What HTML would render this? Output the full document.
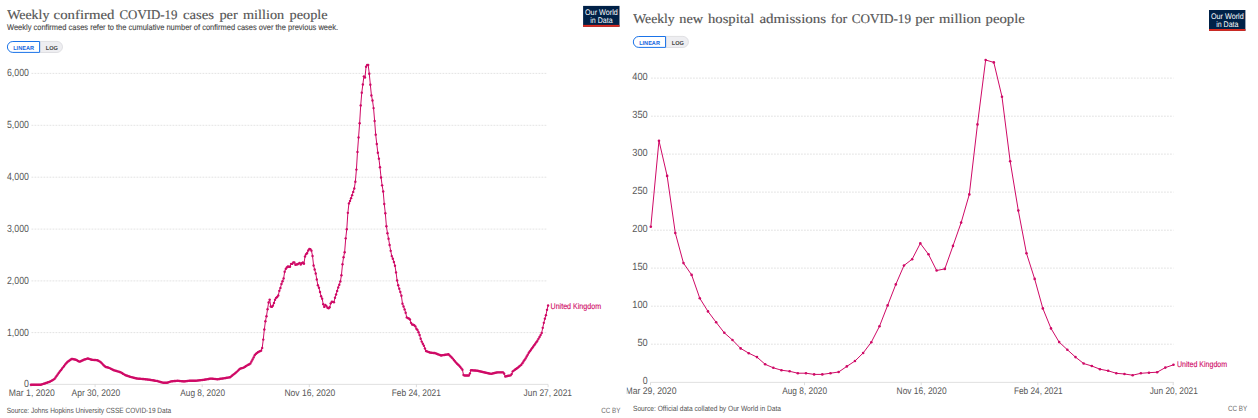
<!DOCTYPE html><html><head><meta charset="utf-8"><title>Charts</title><style>html,body{margin:0;padding:0;background:#fff}svg{display:block}</style></head><body>
<svg width="1258" height="418" viewBox="0 0 1258 418" text-rendering="geometricPrecision">
<rect width="1258" height="418" fill="#fff"/>
<defs><clipPath id="rc"><rect x="626.8" y="0" width="632" height="418"/></clipPath></defs>
<text x="7.2" y="18.8" font-family="Liberation Serif, serif" font-size="13.2" fill="#555" textLength="42.2" lengthAdjust="spacingAndGlyphs" stroke="#555" stroke-width="0.15">Weekly</text><text x="53.6" y="18.8" font-family="Liberation Serif, serif" font-size="13.2" fill="#555" textLength="60.8" lengthAdjust="spacingAndGlyphs" stroke="#555" stroke-width="0.15">confirmed</text><text x="119.5" y="18.8" font-family="Liberation Serif, serif" font-size="13.2" fill="#555" textLength="58.0" lengthAdjust="spacingAndGlyphs" stroke="#555" stroke-width="0.15">COVID-19</text><text x="182.9" y="18.8" font-family="Liberation Serif, serif" font-size="13.2" fill="#555" textLength="31.2" lengthAdjust="spacingAndGlyphs" stroke="#555" stroke-width="0.15">cases</text><text x="219.4" y="18.8" font-family="Liberation Serif, serif" font-size="13.2" fill="#555" textLength="18.3" lengthAdjust="spacingAndGlyphs" stroke="#555" stroke-width="0.15">per</text><text x="243" y="18.8" font-family="Liberation Serif, serif" font-size="13.2" fill="#555" textLength="41.2" lengthAdjust="spacingAndGlyphs" stroke="#555" stroke-width="0.15">million</text><text x="289.5" y="18.8" font-family="Liberation Serif, serif" font-size="13.2" fill="#555" textLength="38.1" lengthAdjust="spacingAndGlyphs" stroke="#555" stroke-width="0.15">people</text>
<text x="7" y="30" font-family="Liberation Sans, sans-serif" font-size="8.3" fill="#484848" textLength="331" lengthAdjust="spacingAndGlyphs" stroke="#484848" stroke-width="0.12">Weekly confirmed cases refer to the cumulative number of confirmed cases over the previous week.</text>
<path d="M40.1,41.4 h16.85 a5.45,5.45 0 0 1 0,11.1 h-16.85 z" fill="#eeeef1" stroke="#d5d5da" stroke-width="0.7"/><path d="M39.6,41.5 h-26.750000000000004 a5.45,5.45 0 0 0 0,10.9 h26.750000000000004 z" fill="#fff" stroke="#1a73e8" stroke-width="1"/><text x="13.2" y="49.9" font-family="Liberation Sans, sans-serif" font-size="5.8" fill="#1a6ae0" textLength="20.8" lengthAdjust="spacingAndGlyphs" font-weight="bold">LINEAR</text><text x="45.8" y="49.9" font-family="Liberation Sans, sans-serif" font-size="5.8" fill="#444" textLength="12.1" lengthAdjust="spacingAndGlyphs" font-weight="bold">LOG</text>
<rect x="583.1" y="5.9" width="36.4" height="20.9" fill="#002147"/><rect x="583.1" y="24.9" width="36.4" height="1.9" fill="#dc2a1e"/><text x="585.0" y="14.5" font-family="Liberation Sans, sans-serif" font-size="8.2" fill="#fff" textLength="32.8" lengthAdjust="spacingAndGlyphs">Our World</text><text x="590.3000000000001" y="22.6" font-family="Liberation Sans, sans-serif" font-size="8.2" fill="#fff" textLength="22.3" lengthAdjust="spacingAndGlyphs">in Data</text>
<line x1="31.5" x2="547" y1="73.4" y2="73.4" stroke="#dadada" stroke-width="0.75" stroke-dasharray="1.8,1.2"/>
<text x="7" y="76.30000000000001" font-family="Liberation Sans, sans-serif" font-size="10.4" fill="#575757" textLength="21.9" lengthAdjust="spacingAndGlyphs">6,000</text>
<line x1="31.5" x2="547" y1="125.3" y2="125.3" stroke="#dadada" stroke-width="0.75" stroke-dasharray="1.8,1.2"/>
<text x="7" y="128.2" font-family="Liberation Sans, sans-serif" font-size="10.4" fill="#575757" textLength="21.9" lengthAdjust="spacingAndGlyphs">5,000</text>
<line x1="31.5" x2="547" y1="177.2" y2="177.2" stroke="#dadada" stroke-width="0.75" stroke-dasharray="1.8,1.2"/>
<text x="7" y="180.1" font-family="Liberation Sans, sans-serif" font-size="10.4" fill="#575757" textLength="21.9" lengthAdjust="spacingAndGlyphs">4,000</text>
<line x1="31.5" x2="547" y1="229.1" y2="229.1" stroke="#dadada" stroke-width="0.75" stroke-dasharray="1.8,1.2"/>
<text x="7" y="232.0" font-family="Liberation Sans, sans-serif" font-size="10.4" fill="#575757" textLength="21.9" lengthAdjust="spacingAndGlyphs">3,000</text>
<line x1="31.5" x2="547" y1="280.9" y2="280.9" stroke="#dadada" stroke-width="0.75" stroke-dasharray="1.8,1.2"/>
<text x="7" y="283.79999999999995" font-family="Liberation Sans, sans-serif" font-size="10.4" fill="#575757" textLength="21.9" lengthAdjust="spacingAndGlyphs">2,000</text>
<line x1="31.5" x2="547" y1="332.6" y2="332.6" stroke="#dadada" stroke-width="0.75" stroke-dasharray="1.8,1.2"/>
<text x="7" y="335.5" font-family="Liberation Sans, sans-serif" font-size="10.4" fill="#575757" textLength="21.9" lengthAdjust="spacingAndGlyphs">1,000</text>
<text x="24.0" y="386.7" font-family="Liberation Sans, sans-serif" font-size="10.4" fill="#575757" textLength="4.9" lengthAdjust="spacingAndGlyphs">0</text>
<line x1="30.9" x2="548" y1="384.4" y2="384.4" stroke="#dcdcdc" stroke-width="0.9"/>
<line x1="30.9" x2="30.9" y1="384.4" y2="387.2" stroke="#d4d4d4" stroke-width="0.8"/>
<text x="8.8" y="395.8" font-family="Liberation Sans, sans-serif" font-size="9.6" fill="#575757" textLength="46.1" lengthAdjust="spacingAndGlyphs">Mar 1, 2020</text>
<line x1="95.1" x2="95.1" y1="384.4" y2="387.2" stroke="#d4d4d4" stroke-width="0.8"/>
<text x="71.5" y="395.8" font-family="Liberation Sans, sans-serif" font-size="9.6" fill="#575757" textLength="48.7" lengthAdjust="spacingAndGlyphs">Apr 30, 2020</text>
<line x1="202.2" x2="202.2" y1="384.4" y2="387.2" stroke="#d4d4d4" stroke-width="0.8"/>
<text x="180.3" y="395.8" font-family="Liberation Sans, sans-serif" font-size="9.6" fill="#575757" textLength="44.7" lengthAdjust="spacingAndGlyphs">Aug 8, 2020</text>
<line x1="309.3" x2="309.3" y1="384.4" y2="387.2" stroke="#d4d4d4" stroke-width="0.8"/>
<text x="284.4" y="395.8" font-family="Liberation Sans, sans-serif" font-size="9.6" fill="#575757" textLength="50.9" lengthAdjust="spacingAndGlyphs">Nov 16, 2020</text>
<line x1="416.4" x2="416.4" y1="384.4" y2="387.2" stroke="#d4d4d4" stroke-width="0.8"/>
<text x="391.7" y="395.8" font-family="Liberation Sans, sans-serif" font-size="9.6" fill="#575757" textLength="49.2" lengthAdjust="spacingAndGlyphs">Feb 24, 2021</text>
<line x1="548.1" x2="548.1" y1="384.4" y2="387.2" stroke="#d4d4d4" stroke-width="0.8"/>
<text x="523.6" y="395.8" font-family="Liberation Sans, sans-serif" font-size="9.6" fill="#575757" textLength="48.4" lengthAdjust="spacingAndGlyphs">Jun 27, 2021</text>
<g fill="none" stroke="#cf0a66" stroke-width="1.0" stroke-linejoin="round"><path d="M30.90,384.70 L31.97,384.70 L33.04,384.70 L34.11,384.70 L35.18,384.70 L36.25,384.70 L37.32,384.70 L38.40,384.70 L39.47,384.70 L40.54,384.70 L41.61,384.45 L42.68,384.11 L43.75,383.78 L44.82,383.44 L45.89,383.07 L46.96,382.70 L48.03,382.32 L49.10,381.95 L50.17,381.57 L51.25,380.92 L52.32,380.28 L53.39,379.64 L54.46,378.90 L55.53,377.43 L56.60,375.96 L57.67,374.49 L58.74,373.02 L59.81,371.56 L60.88,370.14 L61.95,368.75 L63.02,367.35 L64.09,365.96 L65.17,364.57 L66.24,363.18 L67.31,362.03 L68.38,361.28 L69.45,360.53 L70.52,359.78 L71.59,359.03 L72.66,358.98 L73.73,359.24 L74.80,359.50 L75.87,359.76 L76.94,360.31 L78.02,360.96 L79.09,361.60 L80.16,361.48 L81.23,360.97 L82.30,360.46 L83.37,359.94 L84.44,359.56 L85.51,359.21 L86.58,358.87 L87.65,358.53 L88.72,358.76 L89.79,359.10 L90.86,359.44 L91.94,359.79 L93.01,359.88 L94.08,359.95 L95.15,360.02 L96.22,360.09 L97.29,360.27 L98.36,360.81 L99.43,361.34 L100.50,361.93 L101.57,363.00 L102.64,364.08 L103.71,365.15 L104.79,366.22 L105.86,366.96 L106.93,367.22 L108.00,367.49 L109.07,367.84 L110.14,368.37 L111.21,368.91 L112.28,369.44 L113.35,369.98 L114.42,370.39 L115.49,370.71 L116.56,371.03 L117.63,371.35 L118.71,371.67 L119.78,371.99 L120.85,372.42 L121.92,373.06 L122.99,373.71 L124.06,374.35 L125.13,374.99 L126.20,375.45 L127.27,375.81 L128.34,376.16 L129.41,376.52 L130.48,376.88 L131.56,377.15 L132.63,377.42 L133.70,377.68 L134.77,377.95 L135.84,378.22 L136.91,378.49 L137.98,378.62 L139.05,378.70 L140.12,378.78 L141.19,378.87 L142.26,378.95 L143.33,379.03 L144.40,379.13 L145.48,379.26 L146.55,379.40 L147.62,379.53 L148.69,379.66 L149.76,379.80 L150.83,379.94 L151.90,380.13 L152.97,380.32 L154.04,380.50 L155.11,380.69 L156.18,380.88 L157.25,381.07 L158.33,381.36 L159.40,381.67 L160.47,381.98 L161.54,382.28 L162.61,382.59 L163.68,382.75 L164.75,382.75 L165.82,382.75 L166.89,382.75 L167.96,382.52 L169.03,382.09 L170.10,381.66 L171.17,381.37 L172.25,381.26 L173.32,381.16 L174.39,381.05 L175.46,380.94 L176.53,380.84 L177.60,380.76 L178.67,380.87 L179.74,380.98 L180.81,381.08 L181.88,381.19 L182.95,381.30 L184.02,381.40 L185.10,381.29 L186.17,381.14 L187.24,381.00 L188.31,380.86 L189.38,380.75 L190.45,380.75 L191.52,380.75 L192.59,380.75 L193.66,380.75 L194.73,380.75 L195.80,380.75 L196.87,380.62 L197.94,380.49 L199.02,380.37 L200.09,380.24 L201.16,380.11 L202.23,379.98 L203.30,379.85 L204.37,379.71 L205.44,379.53 L206.51,379.34 L207.58,379.15 L208.65,378.97 L209.72,378.78 L210.79,378.59 L211.87,378.66 L212.94,378.77 L214.01,378.88 L215.08,378.98 L216.15,379.09 L217.22,379.20 L218.29,379.14 L219.36,378.98 L220.43,378.82 L221.50,378.66 L222.57,378.50 L223.64,378.33 L224.71,378.16 L225.79,377.97 L226.86,377.79 L227.93,377.60 L229.00,377.41 L230.07,377.19 L231.14,376.35 L232.21,375.51 L233.28,374.67 L234.35,373.83 L235.42,372.98 L236.49,372.12 L237.56,371.10 L238.64,370.03 L239.71,368.96 L240.78,368.40 L241.85,368.13 L242.92,367.86 L243.99,367.38 L245.06,366.68 L246.13,365.99 L247.20,365.35 L248.27,364.82 L249.34,364.28 L250.41,363.40 L251.48,361.47 L252.56,359.54 L253.63,357.42 L254.70,355.28 L255.77,353.88 L256.84,353.08 L257.91,352.28 L258.98,351.62 L260.05,351.14 L261.12,350.66 L262.19,347.94 L263.26,339.59 L264.33,329.52 L265.41,321.30 L266.48,316.20 L267.55,309.16 L268.62,302.48 L269.69,299.59 L270.76,306.46 L271.83,306.89 L272.90,305.63 L273.97,303.00 L275.04,299.71 L276.11,297.85 L277.18,297.05 L278.25,295.50 L279.33,290.87 L280.40,287.94 L281.47,284.02 L282.54,281.23 L283.61,278.42 L284.68,271.75 L285.75,268.91 L286.82,267.52 L287.89,266.45 L288.96,266.80 L290.03,266.77 L291.10,263.87 L292.18,263.91 L293.25,262.56 L294.32,262.40 L295.39,264.76 L296.46,264.48 L297.53,264.29 L298.60,263.60 L299.67,262.87 L300.74,264.48 L301.81,263.18 L302.88,262.36 L303.95,263.70 L305.02,256.48 L306.10,254.17 L307.17,252.99 L308.24,250.48 L309.31,249.02 L310.38,249.27 L311.45,250.66 L312.52,255.94 L313.59,265.51 L314.66,269.53 L315.73,273.47 L316.80,279.52 L317.87,285.24 L318.95,287.75 L320.02,292.04 L321.09,296.25 L322.16,298.66 L323.23,304.13 L324.30,306.88 L325.37,304.99 L326.44,306.08 L327.51,307.77 L328.58,308.26 L329.65,307.28 L330.72,303.37 L331.79,301.77 L332.87,301.86 L333.94,302.24 L335.01,297.74 L336.08,294.48 L337.15,290.94 L338.22,287.46 L339.29,284.68 L340.36,281.42 L341.43,275.32 L342.50,264.23 L343.57,257.16 L344.64,252.25 L345.72,238.36 L346.79,229.15 L347.86,212.86 L348.93,203.39 L350.00,200.98 L351.07,198.16 L352.14,195.16 L353.21,191.88 L354.28,188.50 L355.35,181.71 L356.42,169.58 L357.49,151.91 L358.56,137.42 L359.64,123.23 L360.71,105.41 L361.78,92.66 L362.85,84.47 L363.92,76.37 L364.99,77.52 L366.06,66.81 L367.13,64.91 L368.20,65.01 L369.27,73.69 L370.34,84.63 L371.41,95.39 L372.49,100.46 L373.56,108.09 L374.63,120.95 L375.70,134.66 L376.77,143.99 L377.84,152.71 L378.91,158.63 L379.98,167.30 L381.05,177.47 L382.12,185.36 L383.19,191.48 L384.26,203.99 L385.33,213.32 L386.41,226.31 L387.48,233.14 L388.55,238.82 L389.62,244.98 L390.69,250.85 L391.76,256.10 L392.83,258.78 L393.90,262.02 L394.97,265.77 L396.04,272.38 L397.11,280.41 L398.18,285.25 L399.26,288.69 L400.33,292.04 L401.40,295.79 L402.47,303.65 L403.54,306.50 L404.61,309.38 L405.68,312.79 L406.75,317.40 L407.82,318.12 L408.89,318.51 L409.96,319.57 L411.03,322.86 L412.10,324.50 L413.18,324.69 L414.25,325.16 L415.32,326.35 L416.39,328.68 L417.46,329.89 L418.53,332.30 L419.60,334.99 L420.67,338.82 L421.74,341.60 L422.81,343.70 L423.88,345.76 L424.95,348.46 L426.03,350.99 L427.10,351.42 L428.17,351.84 L429.24,352.27 L430.31,352.63 L431.38,352.74 L432.45,352.84 L433.52,352.95 L434.59,353.06 L435.66,353.33 L436.73,353.76 L437.80,354.18 L438.87,354.61 L439.95,355.04 L441.02,355.45 L442.09,355.28 L443.16,355.12 L444.23,354.95 L445.30,354.78 L446.37,354.62 L447.44,354.45 L448.51,354.29 L449.58,355.35 L450.65,356.42 L451.72,357.49 L452.80,358.58 L453.87,359.92 L454.94,361.26 L456.01,362.60 L457.08,363.68 L458.15,364.75 L459.22,365.82 L460.29,366.91 L461.36,368.34 L462.43,369.76 L463.50,374.98 L464.57,375.55 L465.64,375.55 L466.72,375.55 L467.79,375.55 L468.86,375.55 L469.93,373.39 L471.00,370.22 L472.07,370.31 L473.14,370.39 L474.21,370.48 L475.28,370.56 L476.35,370.65 L477.42,370.79 L478.49,371.04 L479.57,371.28 L480.64,371.52 L481.71,371.76 L482.78,372.00 L483.85,372.24 L484.92,372.48 L485.99,372.72 L487.06,372.95 L488.13,373.19 L489.20,373.43 L490.27,373.67 L491.34,373.85 L492.41,373.57 L493.49,373.30 L494.56,373.02 L495.63,372.75 L496.70,372.47 L497.77,372.37 L498.84,372.37 L499.91,372.37 L500.98,372.37 L502.05,372.37 L503.12,372.37 L504.19,373.82 L505.26,376.49 L506.34,376.27 L507.41,376.04 L508.48,375.82 L509.55,375.59 L510.62,375.37 L511.69,374.07 L512.76,371.35 L513.83,370.58 L514.90,369.82 L515.97,369.05 L517.04,368.29 L518.11,367.40 L519.18,366.50 L520.26,365.61 L521.33,364.71 L522.40,363.15 L523.47,361.56 L524.54,359.98 L525.61,358.38 L526.68,356.51 L527.75,354.63 L528.82,352.76 L529.89,351.23 L530.96,349.73 L532.03,348.23 L533.11,346.73 L534.18,345.23 L535.25,343.74 L536.32,342.24 L537.39,340.70 L538.46,338.83 L539.53,336.95 L540.60,335.08 L541.67,332.95 L542.74,327.87 L543.81,322.84 L544.88,318.65 L545.95,315.15 L547.03,309.87 L548.10,305.50"/></g>
<g fill="#cf0a66"><circle cx="30.90" cy="384.70" r="1.2"/><circle cx="31.97" cy="384.70" r="1.2"/><circle cx="33.04" cy="384.70" r="1.2"/><circle cx="34.11" cy="384.70" r="1.2"/><circle cx="35.18" cy="384.70" r="1.2"/><circle cx="36.25" cy="384.70" r="1.2"/><circle cx="37.32" cy="384.70" r="1.2"/><circle cx="38.40" cy="384.70" r="1.2"/><circle cx="39.47" cy="384.70" r="1.2"/><circle cx="40.54" cy="384.70" r="1.2"/><circle cx="41.61" cy="384.45" r="1.2"/><circle cx="42.68" cy="384.11" r="1.2"/><circle cx="43.75" cy="383.78" r="1.2"/><circle cx="44.82" cy="383.44" r="1.2"/><circle cx="45.89" cy="383.07" r="1.2"/><circle cx="46.96" cy="382.70" r="1.2"/><circle cx="48.03" cy="382.32" r="1.2"/><circle cx="49.10" cy="381.95" r="1.2"/><circle cx="50.17" cy="381.57" r="1.2"/><circle cx="51.25" cy="380.92" r="1.2"/><circle cx="52.32" cy="380.28" r="1.2"/><circle cx="53.39" cy="379.64" r="1.2"/><circle cx="54.46" cy="378.90" r="1.2"/><circle cx="55.53" cy="377.43" r="1.2"/><circle cx="56.60" cy="375.96" r="1.2"/><circle cx="57.67" cy="374.49" r="1.2"/><circle cx="58.74" cy="373.02" r="1.2"/><circle cx="59.81" cy="371.56" r="1.2"/><circle cx="60.88" cy="370.14" r="1.2"/><circle cx="61.95" cy="368.75" r="1.2"/><circle cx="63.02" cy="367.35" r="1.2"/><circle cx="64.09" cy="365.96" r="1.2"/><circle cx="65.17" cy="364.57" r="1.2"/><circle cx="66.24" cy="363.18" r="1.2"/><circle cx="67.31" cy="362.03" r="1.2"/><circle cx="68.38" cy="361.28" r="1.2"/><circle cx="69.45" cy="360.53" r="1.2"/><circle cx="70.52" cy="359.78" r="1.2"/><circle cx="71.59" cy="359.03" r="1.2"/><circle cx="72.66" cy="358.98" r="1.2"/><circle cx="73.73" cy="359.24" r="1.2"/><circle cx="74.80" cy="359.50" r="1.2"/><circle cx="75.87" cy="359.76" r="1.2"/><circle cx="76.94" cy="360.31" r="1.2"/><circle cx="78.02" cy="360.96" r="1.2"/><circle cx="79.09" cy="361.60" r="1.2"/><circle cx="80.16" cy="361.48" r="1.2"/><circle cx="81.23" cy="360.97" r="1.2"/><circle cx="82.30" cy="360.46" r="1.2"/><circle cx="83.37" cy="359.94" r="1.2"/><circle cx="84.44" cy="359.56" r="1.2"/><circle cx="85.51" cy="359.21" r="1.2"/><circle cx="86.58" cy="358.87" r="1.2"/><circle cx="87.65" cy="358.53" r="1.2"/><circle cx="88.72" cy="358.76" r="1.2"/><circle cx="89.79" cy="359.10" r="1.2"/><circle cx="90.86" cy="359.44" r="1.2"/><circle cx="91.94" cy="359.79" r="1.2"/><circle cx="93.01" cy="359.88" r="1.2"/><circle cx="94.08" cy="359.95" r="1.2"/><circle cx="95.15" cy="360.02" r="1.2"/><circle cx="96.22" cy="360.09" r="1.2"/><circle cx="97.29" cy="360.27" r="1.2"/><circle cx="98.36" cy="360.81" r="1.2"/><circle cx="99.43" cy="361.34" r="1.2"/><circle cx="100.50" cy="361.93" r="1.2"/><circle cx="101.57" cy="363.00" r="1.2"/><circle cx="102.64" cy="364.08" r="1.2"/><circle cx="103.71" cy="365.15" r="1.2"/><circle cx="104.79" cy="366.22" r="1.2"/><circle cx="105.86" cy="366.96" r="1.2"/><circle cx="106.93" cy="367.22" r="1.2"/><circle cx="108.00" cy="367.49" r="1.2"/><circle cx="109.07" cy="367.84" r="1.2"/><circle cx="110.14" cy="368.37" r="1.2"/><circle cx="111.21" cy="368.91" r="1.2"/><circle cx="112.28" cy="369.44" r="1.2"/><circle cx="113.35" cy="369.98" r="1.2"/><circle cx="114.42" cy="370.39" r="1.2"/><circle cx="115.49" cy="370.71" r="1.2"/><circle cx="116.56" cy="371.03" r="1.2"/><circle cx="117.63" cy="371.35" r="1.2"/><circle cx="118.71" cy="371.67" r="1.2"/><circle cx="119.78" cy="371.99" r="1.2"/><circle cx="120.85" cy="372.42" r="1.2"/><circle cx="121.92" cy="373.06" r="1.2"/><circle cx="122.99" cy="373.71" r="1.2"/><circle cx="124.06" cy="374.35" r="1.2"/><circle cx="125.13" cy="374.99" r="1.2"/><circle cx="126.20" cy="375.45" r="1.2"/><circle cx="127.27" cy="375.81" r="1.2"/><circle cx="128.34" cy="376.16" r="1.2"/><circle cx="129.41" cy="376.52" r="1.2"/><circle cx="130.48" cy="376.88" r="1.2"/><circle cx="131.56" cy="377.15" r="1.2"/><circle cx="132.63" cy="377.42" r="1.2"/><circle cx="133.70" cy="377.68" r="1.2"/><circle cx="134.77" cy="377.95" r="1.2"/><circle cx="135.84" cy="378.22" r="1.2"/><circle cx="136.91" cy="378.49" r="1.2"/><circle cx="137.98" cy="378.62" r="1.2"/><circle cx="139.05" cy="378.70" r="1.2"/><circle cx="140.12" cy="378.78" r="1.2"/><circle cx="141.19" cy="378.87" r="1.2"/><circle cx="142.26" cy="378.95" r="1.2"/><circle cx="143.33" cy="379.03" r="1.2"/><circle cx="144.40" cy="379.13" r="1.2"/><circle cx="145.48" cy="379.26" r="1.2"/><circle cx="146.55" cy="379.40" r="1.2"/><circle cx="147.62" cy="379.53" r="1.2"/><circle cx="148.69" cy="379.66" r="1.2"/><circle cx="149.76" cy="379.80" r="1.2"/><circle cx="150.83" cy="379.94" r="1.2"/><circle cx="151.90" cy="380.13" r="1.2"/><circle cx="152.97" cy="380.32" r="1.2"/><circle cx="154.04" cy="380.50" r="1.2"/><circle cx="155.11" cy="380.69" r="1.2"/><circle cx="156.18" cy="380.88" r="1.2"/><circle cx="157.25" cy="381.07" r="1.2"/><circle cx="158.33" cy="381.36" r="1.2"/><circle cx="159.40" cy="381.67" r="1.2"/><circle cx="160.47" cy="381.98" r="1.2"/><circle cx="161.54" cy="382.28" r="1.2"/><circle cx="162.61" cy="382.59" r="1.2"/><circle cx="163.68" cy="382.75" r="1.2"/><circle cx="164.75" cy="382.75" r="1.2"/><circle cx="165.82" cy="382.75" r="1.2"/><circle cx="166.89" cy="382.75" r="1.2"/><circle cx="167.96" cy="382.52" r="1.2"/><circle cx="169.03" cy="382.09" r="1.2"/><circle cx="170.10" cy="381.66" r="1.2"/><circle cx="171.17" cy="381.37" r="1.2"/><circle cx="172.25" cy="381.26" r="1.2"/><circle cx="173.32" cy="381.16" r="1.2"/><circle cx="174.39" cy="381.05" r="1.2"/><circle cx="175.46" cy="380.94" r="1.2"/><circle cx="176.53" cy="380.84" r="1.2"/><circle cx="177.60" cy="380.76" r="1.2"/><circle cx="178.67" cy="380.87" r="1.2"/><circle cx="179.74" cy="380.98" r="1.2"/><circle cx="180.81" cy="381.08" r="1.2"/><circle cx="181.88" cy="381.19" r="1.2"/><circle cx="182.95" cy="381.30" r="1.2"/><circle cx="184.02" cy="381.40" r="1.2"/><circle cx="185.10" cy="381.29" r="1.2"/><circle cx="186.17" cy="381.14" r="1.2"/><circle cx="187.24" cy="381.00" r="1.2"/><circle cx="188.31" cy="380.86" r="1.2"/><circle cx="189.38" cy="380.75" r="1.2"/><circle cx="190.45" cy="380.75" r="1.2"/><circle cx="191.52" cy="380.75" r="1.2"/><circle cx="192.59" cy="380.75" r="1.2"/><circle cx="193.66" cy="380.75" r="1.2"/><circle cx="194.73" cy="380.75" r="1.2"/><circle cx="195.80" cy="380.75" r="1.2"/><circle cx="196.87" cy="380.62" r="1.2"/><circle cx="197.94" cy="380.49" r="1.2"/><circle cx="199.02" cy="380.37" r="1.2"/><circle cx="200.09" cy="380.24" r="1.2"/><circle cx="201.16" cy="380.11" r="1.2"/><circle cx="202.23" cy="379.98" r="1.2"/><circle cx="203.30" cy="379.85" r="1.2"/><circle cx="204.37" cy="379.71" r="1.2"/><circle cx="205.44" cy="379.53" r="1.2"/><circle cx="206.51" cy="379.34" r="1.2"/><circle cx="207.58" cy="379.15" r="1.2"/><circle cx="208.65" cy="378.97" r="1.2"/><circle cx="209.72" cy="378.78" r="1.2"/><circle cx="210.79" cy="378.59" r="1.2"/><circle cx="211.87" cy="378.66" r="1.2"/><circle cx="212.94" cy="378.77" r="1.2"/><circle cx="214.01" cy="378.88" r="1.2"/><circle cx="215.08" cy="378.98" r="1.2"/><circle cx="216.15" cy="379.09" r="1.2"/><circle cx="217.22" cy="379.20" r="1.2"/><circle cx="218.29" cy="379.14" r="1.2"/><circle cx="219.36" cy="378.98" r="1.2"/><circle cx="220.43" cy="378.82" r="1.2"/><circle cx="221.50" cy="378.66" r="1.2"/><circle cx="222.57" cy="378.50" r="1.2"/><circle cx="223.64" cy="378.33" r="1.2"/><circle cx="224.71" cy="378.16" r="1.2"/><circle cx="225.79" cy="377.97" r="1.2"/><circle cx="226.86" cy="377.79" r="1.2"/><circle cx="227.93" cy="377.60" r="1.2"/><circle cx="229.00" cy="377.41" r="1.2"/><circle cx="230.07" cy="377.19" r="1.2"/><circle cx="231.14" cy="376.35" r="1.2"/><circle cx="232.21" cy="375.51" r="1.2"/><circle cx="233.28" cy="374.67" r="1.2"/><circle cx="234.35" cy="373.83" r="1.2"/><circle cx="235.42" cy="372.98" r="1.2"/><circle cx="236.49" cy="372.12" r="1.2"/><circle cx="237.56" cy="371.10" r="1.2"/><circle cx="238.64" cy="370.03" r="1.2"/><circle cx="239.71" cy="368.96" r="1.2"/><circle cx="240.78" cy="368.40" r="1.2"/><circle cx="241.85" cy="368.13" r="1.2"/><circle cx="242.92" cy="367.86" r="1.2"/><circle cx="243.99" cy="367.38" r="1.2"/><circle cx="245.06" cy="366.68" r="1.2"/><circle cx="246.13" cy="365.99" r="1.2"/><circle cx="247.20" cy="365.35" r="1.2"/><circle cx="248.27" cy="364.82" r="1.2"/><circle cx="249.34" cy="364.28" r="1.2"/><circle cx="250.41" cy="363.40" r="1.2"/><circle cx="251.48" cy="361.47" r="1.2"/><circle cx="252.56" cy="359.54" r="1.2"/><circle cx="253.63" cy="357.42" r="1.2"/><circle cx="254.70" cy="355.28" r="1.2"/><circle cx="255.77" cy="353.88" r="1.2"/><circle cx="256.84" cy="353.08" r="1.2"/><circle cx="257.91" cy="352.28" r="1.2"/><circle cx="258.98" cy="351.62" r="1.2"/><circle cx="260.05" cy="351.14" r="1.2"/><circle cx="261.12" cy="350.66" r="1.2"/><circle cx="262.19" cy="347.94" r="1.2"/><circle cx="263.26" cy="339.59" r="1.2"/><circle cx="264.33" cy="329.52" r="1.2"/><circle cx="265.41" cy="321.30" r="1.2"/><circle cx="266.48" cy="316.20" r="1.2"/><circle cx="267.55" cy="309.16" r="1.2"/><circle cx="268.62" cy="302.48" r="1.2"/><circle cx="269.69" cy="299.59" r="1.2"/><circle cx="270.76" cy="306.46" r="1.2"/><circle cx="271.83" cy="306.89" r="1.2"/><circle cx="272.90" cy="305.63" r="1.2"/><circle cx="273.97" cy="303.00" r="1.2"/><circle cx="275.04" cy="299.71" r="1.2"/><circle cx="276.11" cy="297.85" r="1.2"/><circle cx="277.18" cy="297.05" r="1.2"/><circle cx="278.25" cy="295.50" r="1.2"/><circle cx="279.33" cy="290.87" r="1.2"/><circle cx="280.40" cy="287.94" r="1.2"/><circle cx="281.47" cy="284.02" r="1.2"/><circle cx="282.54" cy="281.23" r="1.2"/><circle cx="283.61" cy="278.42" r="1.2"/><circle cx="284.68" cy="271.75" r="1.2"/><circle cx="285.75" cy="268.91" r="1.2"/><circle cx="286.82" cy="267.52" r="1.2"/><circle cx="287.89" cy="266.45" r="1.2"/><circle cx="288.96" cy="266.80" r="1.2"/><circle cx="290.03" cy="266.77" r="1.2"/><circle cx="291.10" cy="263.87" r="1.2"/><circle cx="292.18" cy="263.91" r="1.2"/><circle cx="293.25" cy="262.56" r="1.2"/><circle cx="294.32" cy="262.40" r="1.2"/><circle cx="295.39" cy="264.76" r="1.2"/><circle cx="296.46" cy="264.48" r="1.2"/><circle cx="297.53" cy="264.29" r="1.2"/><circle cx="298.60" cy="263.60" r="1.2"/><circle cx="299.67" cy="262.87" r="1.2"/><circle cx="300.74" cy="264.48" r="1.2"/><circle cx="301.81" cy="263.18" r="1.2"/><circle cx="302.88" cy="262.36" r="1.2"/><circle cx="303.95" cy="263.70" r="1.2"/><circle cx="305.02" cy="256.48" r="1.2"/><circle cx="306.10" cy="254.17" r="1.2"/><circle cx="307.17" cy="252.99" r="1.2"/><circle cx="308.24" cy="250.48" r="1.2"/><circle cx="309.31" cy="249.02" r="1.2"/><circle cx="310.38" cy="249.27" r="1.2"/><circle cx="311.45" cy="250.66" r="1.2"/><circle cx="312.52" cy="255.94" r="1.2"/><circle cx="313.59" cy="265.51" r="1.2"/><circle cx="314.66" cy="269.53" r="1.2"/><circle cx="315.73" cy="273.47" r="1.2"/><circle cx="316.80" cy="279.52" r="1.2"/><circle cx="317.87" cy="285.24" r="1.2"/><circle cx="318.95" cy="287.75" r="1.2"/><circle cx="320.02" cy="292.04" r="1.2"/><circle cx="321.09" cy="296.25" r="1.2"/><circle cx="322.16" cy="298.66" r="1.2"/><circle cx="323.23" cy="304.13" r="1.2"/><circle cx="324.30" cy="306.88" r="1.2"/><circle cx="325.37" cy="304.99" r="1.2"/><circle cx="326.44" cy="306.08" r="1.2"/><circle cx="327.51" cy="307.77" r="1.2"/><circle cx="328.58" cy="308.26" r="1.2"/><circle cx="329.65" cy="307.28" r="1.2"/><circle cx="330.72" cy="303.37" r="1.2"/><circle cx="331.79" cy="301.77" r="1.2"/><circle cx="332.87" cy="301.86" r="1.2"/><circle cx="333.94" cy="302.24" r="1.2"/><circle cx="335.01" cy="297.74" r="1.2"/><circle cx="336.08" cy="294.48" r="1.2"/><circle cx="337.15" cy="290.94" r="1.2"/><circle cx="338.22" cy="287.46" r="1.2"/><circle cx="339.29" cy="284.68" r="1.2"/><circle cx="340.36" cy="281.42" r="1.2"/><circle cx="341.43" cy="275.32" r="1.2"/><circle cx="342.50" cy="264.23" r="1.2"/><circle cx="343.57" cy="257.16" r="1.2"/><circle cx="344.64" cy="252.25" r="1.2"/><circle cx="345.72" cy="238.36" r="1.2"/><circle cx="346.79" cy="229.15" r="1.2"/><circle cx="347.86" cy="212.86" r="1.2"/><circle cx="348.93" cy="203.39" r="1.2"/><circle cx="350.00" cy="200.98" r="1.2"/><circle cx="351.07" cy="198.16" r="1.2"/><circle cx="352.14" cy="195.16" r="1.2"/><circle cx="353.21" cy="191.88" r="1.2"/><circle cx="354.28" cy="188.50" r="1.2"/><circle cx="355.35" cy="181.71" r="1.2"/><circle cx="356.42" cy="169.58" r="1.2"/><circle cx="357.49" cy="151.91" r="1.2"/><circle cx="358.56" cy="137.42" r="1.2"/><circle cx="359.64" cy="123.23" r="1.2"/><circle cx="360.71" cy="105.41" r="1.2"/><circle cx="361.78" cy="92.66" r="1.2"/><circle cx="362.85" cy="84.47" r="1.2"/><circle cx="363.92" cy="76.37" r="1.2"/><circle cx="364.99" cy="77.52" r="1.2"/><circle cx="366.06" cy="66.81" r="1.2"/><circle cx="367.13" cy="64.91" r="1.2"/><circle cx="368.20" cy="65.01" r="1.2"/><circle cx="369.27" cy="73.69" r="1.2"/><circle cx="370.34" cy="84.63" r="1.2"/><circle cx="371.41" cy="95.39" r="1.2"/><circle cx="372.49" cy="100.46" r="1.2"/><circle cx="373.56" cy="108.09" r="1.2"/><circle cx="374.63" cy="120.95" r="1.2"/><circle cx="375.70" cy="134.66" r="1.2"/><circle cx="376.77" cy="143.99" r="1.2"/><circle cx="377.84" cy="152.71" r="1.2"/><circle cx="378.91" cy="158.63" r="1.2"/><circle cx="379.98" cy="167.30" r="1.2"/><circle cx="381.05" cy="177.47" r="1.2"/><circle cx="382.12" cy="185.36" r="1.2"/><circle cx="383.19" cy="191.48" r="1.2"/><circle cx="384.26" cy="203.99" r="1.2"/><circle cx="385.33" cy="213.32" r="1.2"/><circle cx="386.41" cy="226.31" r="1.2"/><circle cx="387.48" cy="233.14" r="1.2"/><circle cx="388.55" cy="238.82" r="1.2"/><circle cx="389.62" cy="244.98" r="1.2"/><circle cx="390.69" cy="250.85" r="1.2"/><circle cx="391.76" cy="256.10" r="1.2"/><circle cx="392.83" cy="258.78" r="1.2"/><circle cx="393.90" cy="262.02" r="1.2"/><circle cx="394.97" cy="265.77" r="1.2"/><circle cx="396.04" cy="272.38" r="1.2"/><circle cx="397.11" cy="280.41" r="1.2"/><circle cx="398.18" cy="285.25" r="1.2"/><circle cx="399.26" cy="288.69" r="1.2"/><circle cx="400.33" cy="292.04" r="1.2"/><circle cx="401.40" cy="295.79" r="1.2"/><circle cx="402.47" cy="303.65" r="1.2"/><circle cx="403.54" cy="306.50" r="1.2"/><circle cx="404.61" cy="309.38" r="1.2"/><circle cx="405.68" cy="312.79" r="1.2"/><circle cx="406.75" cy="317.40" r="1.2"/><circle cx="407.82" cy="318.12" r="1.2"/><circle cx="408.89" cy="318.51" r="1.2"/><circle cx="409.96" cy="319.57" r="1.2"/><circle cx="411.03" cy="322.86" r="1.2"/><circle cx="412.10" cy="324.50" r="1.2"/><circle cx="413.18" cy="324.69" r="1.2"/><circle cx="414.25" cy="325.16" r="1.2"/><circle cx="415.32" cy="326.35" r="1.2"/><circle cx="416.39" cy="328.68" r="1.2"/><circle cx="417.46" cy="329.89" r="1.2"/><circle cx="418.53" cy="332.30" r="1.2"/><circle cx="419.60" cy="334.99" r="1.2"/><circle cx="420.67" cy="338.82" r="1.2"/><circle cx="421.74" cy="341.60" r="1.2"/><circle cx="422.81" cy="343.70" r="1.2"/><circle cx="423.88" cy="345.76" r="1.2"/><circle cx="424.95" cy="348.46" r="1.2"/><circle cx="426.03" cy="350.99" r="1.2"/><circle cx="427.10" cy="351.42" r="1.2"/><circle cx="428.17" cy="351.84" r="1.2"/><circle cx="429.24" cy="352.27" r="1.2"/><circle cx="430.31" cy="352.63" r="1.2"/><circle cx="431.38" cy="352.74" r="1.2"/><circle cx="432.45" cy="352.84" r="1.2"/><circle cx="433.52" cy="352.95" r="1.2"/><circle cx="434.59" cy="353.06" r="1.2"/><circle cx="435.66" cy="353.33" r="1.2"/><circle cx="436.73" cy="353.76" r="1.2"/><circle cx="437.80" cy="354.18" r="1.2"/><circle cx="438.87" cy="354.61" r="1.2"/><circle cx="439.95" cy="355.04" r="1.2"/><circle cx="441.02" cy="355.45" r="1.2"/><circle cx="442.09" cy="355.28" r="1.2"/><circle cx="443.16" cy="355.12" r="1.2"/><circle cx="444.23" cy="354.95" r="1.2"/><circle cx="445.30" cy="354.78" r="1.2"/><circle cx="446.37" cy="354.62" r="1.2"/><circle cx="447.44" cy="354.45" r="1.2"/><circle cx="448.51" cy="354.29" r="1.2"/><circle cx="449.58" cy="355.35" r="1.2"/><circle cx="450.65" cy="356.42" r="1.2"/><circle cx="451.72" cy="357.49" r="1.2"/><circle cx="452.80" cy="358.58" r="1.2"/><circle cx="453.87" cy="359.92" r="1.2"/><circle cx="454.94" cy="361.26" r="1.2"/><circle cx="456.01" cy="362.60" r="1.2"/><circle cx="457.08" cy="363.68" r="1.2"/><circle cx="458.15" cy="364.75" r="1.2"/><circle cx="459.22" cy="365.82" r="1.2"/><circle cx="460.29" cy="366.91" r="1.2"/><circle cx="461.36" cy="368.34" r="1.2"/><circle cx="462.43" cy="369.76" r="1.2"/><circle cx="463.50" cy="374.98" r="1.2"/><circle cx="464.57" cy="375.55" r="1.2"/><circle cx="465.64" cy="375.55" r="1.2"/><circle cx="466.72" cy="375.55" r="1.2"/><circle cx="467.79" cy="375.55" r="1.2"/><circle cx="468.86" cy="375.55" r="1.2"/><circle cx="469.93" cy="373.39" r="1.2"/><circle cx="471.00" cy="370.22" r="1.2"/><circle cx="472.07" cy="370.31" r="1.2"/><circle cx="473.14" cy="370.39" r="1.2"/><circle cx="474.21" cy="370.48" r="1.2"/><circle cx="475.28" cy="370.56" r="1.2"/><circle cx="476.35" cy="370.65" r="1.2"/><circle cx="477.42" cy="370.79" r="1.2"/><circle cx="478.49" cy="371.04" r="1.2"/><circle cx="479.57" cy="371.28" r="1.2"/><circle cx="480.64" cy="371.52" r="1.2"/><circle cx="481.71" cy="371.76" r="1.2"/><circle cx="482.78" cy="372.00" r="1.2"/><circle cx="483.85" cy="372.24" r="1.2"/><circle cx="484.92" cy="372.48" r="1.2"/><circle cx="485.99" cy="372.72" r="1.2"/><circle cx="487.06" cy="372.95" r="1.2"/><circle cx="488.13" cy="373.19" r="1.2"/><circle cx="489.20" cy="373.43" r="1.2"/><circle cx="490.27" cy="373.67" r="1.2"/><circle cx="491.34" cy="373.85" r="1.2"/><circle cx="492.41" cy="373.57" r="1.2"/><circle cx="493.49" cy="373.30" r="1.2"/><circle cx="494.56" cy="373.02" r="1.2"/><circle cx="495.63" cy="372.75" r="1.2"/><circle cx="496.70" cy="372.47" r="1.2"/><circle cx="497.77" cy="372.37" r="1.2"/><circle cx="498.84" cy="372.37" r="1.2"/><circle cx="499.91" cy="372.37" r="1.2"/><circle cx="500.98" cy="372.37" r="1.2"/><circle cx="502.05" cy="372.37" r="1.2"/><circle cx="503.12" cy="372.37" r="1.2"/><circle cx="504.19" cy="373.82" r="1.2"/><circle cx="505.26" cy="376.49" r="1.2"/><circle cx="506.34" cy="376.27" r="1.2"/><circle cx="507.41" cy="376.04" r="1.2"/><circle cx="508.48" cy="375.82" r="1.2"/><circle cx="509.55" cy="375.59" r="1.2"/><circle cx="510.62" cy="375.37" r="1.2"/><circle cx="511.69" cy="374.07" r="1.2"/><circle cx="512.76" cy="371.35" r="1.2"/><circle cx="513.83" cy="370.58" r="1.2"/><circle cx="514.90" cy="369.82" r="1.2"/><circle cx="515.97" cy="369.05" r="1.2"/><circle cx="517.04" cy="368.29" r="1.2"/><circle cx="518.11" cy="367.40" r="1.2"/><circle cx="519.18" cy="366.50" r="1.2"/><circle cx="520.26" cy="365.61" r="1.2"/><circle cx="521.33" cy="364.71" r="1.2"/><circle cx="522.40" cy="363.15" r="1.2"/><circle cx="523.47" cy="361.56" r="1.2"/><circle cx="524.54" cy="359.98" r="1.2"/><circle cx="525.61" cy="358.38" r="1.2"/><circle cx="526.68" cy="356.51" r="1.2"/><circle cx="527.75" cy="354.63" r="1.2"/><circle cx="528.82" cy="352.76" r="1.2"/><circle cx="529.89" cy="351.23" r="1.2"/><circle cx="530.96" cy="349.73" r="1.2"/><circle cx="532.03" cy="348.23" r="1.2"/><circle cx="533.11" cy="346.73" r="1.2"/><circle cx="534.18" cy="345.23" r="1.2"/><circle cx="535.25" cy="343.74" r="1.2"/><circle cx="536.32" cy="342.24" r="1.2"/><circle cx="537.39" cy="340.70" r="1.2"/><circle cx="538.46" cy="338.83" r="1.2"/><circle cx="539.53" cy="336.95" r="1.2"/><circle cx="540.60" cy="335.08" r="1.2"/><circle cx="541.67" cy="332.95" r="1.2"/><circle cx="542.74" cy="327.87" r="1.2"/><circle cx="543.81" cy="322.84" r="1.2"/><circle cx="544.88" cy="318.65" r="1.2"/><circle cx="545.95" cy="315.15" r="1.2"/><circle cx="547.03" cy="309.87" r="1.2"/><circle cx="548.10" cy="305.50" r="1.2"/></g>
<text x="550.5" y="308.9" font-family="Liberation Sans, sans-serif" font-size="8.3" fill="#cf0a66" textLength="50.6" lengthAdjust="spacingAndGlyphs" stroke="#cf0a66" stroke-width="0.12">United Kingdom</text>
<text x="6.7" y="413" font-family="Liberation Sans, sans-serif" font-size="7.6" fill="#525252" textLength="164.4" lengthAdjust="spacingAndGlyphs">Source: Johns Hopkins University CSSE COVID-19 Data</text>
<text x="601.3" y="412.8" font-family="Liberation Sans, sans-serif" font-size="7.6" fill="#666" textLength="19.2" lengthAdjust="spacingAndGlyphs">CC BY</text>
<g clip-path="url(#rc)">
<text x="633.3" y="22.8" font-family="Liberation Serif, serif" font-size="13.2" fill="#555" textLength="41.4" lengthAdjust="spacingAndGlyphs" stroke="#555" stroke-width="0.15">Weekly</text><text x="679.3" y="22.8" font-family="Liberation Serif, serif" font-size="13.2" fill="#555" textLength="23.8" lengthAdjust="spacingAndGlyphs" stroke="#555" stroke-width="0.15">new</text><text x="708" y="22.8" font-family="Liberation Serif, serif" font-size="13.2" fill="#555" textLength="46.4" lengthAdjust="spacingAndGlyphs" stroke="#555" stroke-width="0.15">hospital</text><text x="759.4" y="22.8" font-family="Liberation Serif, serif" font-size="13.2" fill="#555" textLength="66.8" lengthAdjust="spacingAndGlyphs" stroke="#555" stroke-width="0.15">admissions</text><text x="830.8" y="22.8" font-family="Liberation Serif, serif" font-size="13.2" fill="#555" textLength="16.4" lengthAdjust="spacingAndGlyphs" stroke="#555" stroke-width="0.15">for</text><text x="851.7" y="22.8" font-family="Liberation Serif, serif" font-size="13.2" fill="#555" textLength="59.3" lengthAdjust="spacingAndGlyphs" stroke="#555" stroke-width="0.15">COVID-19</text><text x="915.2" y="22.8" font-family="Liberation Serif, serif" font-size="13.2" fill="#555" textLength="19.1" lengthAdjust="spacingAndGlyphs" stroke="#555" stroke-width="0.15">per</text><text x="939" y="22.8" font-family="Liberation Serif, serif" font-size="13.2" fill="#555" textLength="42.1" lengthAdjust="spacingAndGlyphs" stroke="#555" stroke-width="0.15">million</text><text x="985.6" y="22.8" font-family="Liberation Serif, serif" font-size="13.2" fill="#555" textLength="39.2" lengthAdjust="spacingAndGlyphs" stroke="#555" stroke-width="0.15">people</text>
<path d="M666.0500000000001,36.4 h16.85 a5.45,5.45 0 0 1 0,11.1 h-16.85 z" fill="#eeeef1" stroke="#d5d5da" stroke-width="0.7"/><path d="M665.5500000000001,36.5 h-26.750000000000004 a5.45,5.45 0 0 0 0,10.9 h26.750000000000004 z" fill="#fff" stroke="#1a73e8" stroke-width="1"/><text x="639.15" y="44.9" font-family="Liberation Sans, sans-serif" font-size="5.8" fill="#1a6ae0" textLength="20.8" lengthAdjust="spacingAndGlyphs" font-weight="bold">LINEAR</text><text x="671.75" y="44.9" font-family="Liberation Sans, sans-serif" font-size="5.8" fill="#444" textLength="12.1" lengthAdjust="spacingAndGlyphs" font-weight="bold">LOG</text>
<rect x="1209" y="10" width="36.4" height="20.9" fill="#002147"/><rect x="1209" y="29" width="36.4" height="1.9" fill="#dc2a1e"/><text x="1210.9" y="18.6" font-family="Liberation Sans, sans-serif" font-size="8.2" fill="#fff" textLength="32.8" lengthAdjust="spacingAndGlyphs">Our World</text><text x="1216.2" y="26.7" font-family="Liberation Sans, sans-serif" font-size="8.2" fill="#fff" textLength="22.3" lengthAdjust="spacingAndGlyphs">in Data</text>
<line x1="651" x2="1173.5" y1="78.1" y2="78.1" stroke="#dadada" stroke-width="0.75" stroke-dasharray="1.8,1.2"/>
<text x="632.3000000000001" y="80.1" font-family="Liberation Sans, sans-serif" font-size="10.4" fill="#575757" textLength="15.4" lengthAdjust="spacingAndGlyphs">400</text>
<line x1="651" x2="1173.5" y1="116.2" y2="116.2" stroke="#dadada" stroke-width="0.75" stroke-dasharray="1.8,1.2"/>
<text x="632.3000000000001" y="118.2" font-family="Liberation Sans, sans-serif" font-size="10.4" fill="#575757" textLength="15.4" lengthAdjust="spacingAndGlyphs">350</text>
<line x1="651" x2="1173.5" y1="154.1" y2="154.1" stroke="#dadada" stroke-width="0.75" stroke-dasharray="1.8,1.2"/>
<text x="632.3000000000001" y="156.1" font-family="Liberation Sans, sans-serif" font-size="10.4" fill="#575757" textLength="15.4" lengthAdjust="spacingAndGlyphs">300</text>
<line x1="651" x2="1173.5" y1="192.1" y2="192.1" stroke="#dadada" stroke-width="0.75" stroke-dasharray="1.8,1.2"/>
<text x="632.3000000000001" y="194.1" font-family="Liberation Sans, sans-serif" font-size="10.4" fill="#575757" textLength="15.4" lengthAdjust="spacingAndGlyphs">250</text>
<line x1="651" x2="1173.5" y1="230.2" y2="230.2" stroke="#dadada" stroke-width="0.75" stroke-dasharray="1.8,1.2"/>
<text x="632.3000000000001" y="232.2" font-family="Liberation Sans, sans-serif" font-size="10.4" fill="#575757" textLength="15.4" lengthAdjust="spacingAndGlyphs">200</text>
<line x1="651" x2="1173.5" y1="268.1" y2="268.1" stroke="#dadada" stroke-width="0.75" stroke-dasharray="1.8,1.2"/>
<text x="632.3000000000001" y="270.1" font-family="Liberation Sans, sans-serif" font-size="10.4" fill="#575757" textLength="15.4" lengthAdjust="spacingAndGlyphs">150</text>
<line x1="651" x2="1173.5" y1="306.2" y2="306.2" stroke="#dadada" stroke-width="0.75" stroke-dasharray="1.8,1.2"/>
<text x="632.3000000000001" y="308.2" font-family="Liberation Sans, sans-serif" font-size="10.4" fill="#575757" textLength="15.4" lengthAdjust="spacingAndGlyphs">100</text>
<line x1="651" x2="1173.5" y1="344.2" y2="344.2" stroke="#dadada" stroke-width="0.75" stroke-dasharray="1.8,1.2"/>
<text x="637.4000000000001" y="346.2" font-family="Liberation Sans, sans-serif" font-size="10.4" fill="#575757" textLength="10.3" lengthAdjust="spacingAndGlyphs">50</text>
<text x="642.8" y="384.1" font-family="Liberation Sans, sans-serif" font-size="10.4" fill="#575757" textLength="4.9" lengthAdjust="spacingAndGlyphs">0</text>
<line x1="650.5" x2="1173.8" y1="382.4" y2="382.4" stroke="#dcdcdc" stroke-width="0.9"/>
<line x1="650.5" x2="650.5" y1="382.4" y2="385.2" stroke="#d4d4d4" stroke-width="0.8"/>
<text x="625.5" y="393.8" font-family="Liberation Sans, sans-serif" font-size="9.6" fill="#575757" textLength="51.0" lengthAdjust="spacingAndGlyphs">Mar 29, 2020</text>
<line x1="804.5" x2="804.5" y1="382.4" y2="385.2" stroke="#d4d4d4" stroke-width="0.8"/>
<text x="782.2" y="393.8" font-family="Liberation Sans, sans-serif" font-size="9.6" fill="#575757" textLength="44.9" lengthAdjust="spacingAndGlyphs">Aug 8, 2020</text>
<line x1="921.2" x2="921.2" y1="382.4" y2="385.2" stroke="#d4d4d4" stroke-width="0.8"/>
<text x="896.6" y="393.8" font-family="Liberation Sans, sans-serif" font-size="9.6" fill="#575757" textLength="50.0" lengthAdjust="spacingAndGlyphs">Nov 16, 2020</text>
<line x1="1037.8" x2="1037.8" y1="382.4" y2="385.2" stroke="#d4d4d4" stroke-width="0.8"/>
<text x="1013.9" y="393.8" font-family="Liberation Sans, sans-serif" font-size="9.6" fill="#575757" textLength="48.8" lengthAdjust="spacingAndGlyphs">Feb 24, 2021</text>
<line x1="1173.2" x2="1173.2" y1="382.4" y2="385.2" stroke="#d4d4d4" stroke-width="0.8"/>
<text x="1149.7" y="393.8" font-family="Liberation Sans, sans-serif" font-size="9.6" fill="#575757" textLength="48.1" lengthAdjust="spacingAndGlyphs">Jun 20, 2021</text>
<g fill="none" stroke="#cf0a66" stroke-width="1.0" stroke-linejoin="round"><path d="M650.80,226.80 L658.97,140.70 L667.13,175.90 L675.30,233.00 L683.47,263.10 L691.63,274.90 L699.80,298.30 L707.97,311.40 L716.14,322.30 L724.30,332.80 L732.47,340.00 L740.64,348.40 L748.80,353.20 L756.97,357.10 L765.14,364.30 L773.30,367.80 L781.47,370.20 L789.64,371.30 L797.81,373.20 L805.97,373.20 L814.14,374.40 L822.31,374.40 L830.47,373.20 L838.64,372.00 L846.81,366.40 L854.97,361.00 L863.14,353.00 L871.31,342.20 L879.48,326.30 L887.64,305.40 L895.81,284.40 L903.98,265.50 L912.14,259.20 L920.31,243.40 L928.48,254.30 L936.64,270.50 L944.81,268.90 L952.98,245.90 L961.15,222.60 L969.31,194.40 L977.48,124.40 L985.65,60.00 L993.81,62.40 L1001.98,96.70 L1010.15,161.20 L1018.31,210.50 L1026.48,253.30 L1034.65,278.90 L1042.82,308.40 L1050.98,328.40 L1059.15,342.10 L1067.32,349.70 L1075.48,357.10 L1083.65,363.50 L1091.82,366.00 L1099.98,369.20 L1108.15,370.80 L1116.32,373.30 L1124.49,374.00 L1132.65,375.20 L1140.82,373.30 L1148.99,372.70 L1157.15,372.20 L1165.32,367.60 L1173.49,364.80"/></g>
<g fill="#cf0a66"><circle cx="650.80" cy="226.80" r="1.3"/><circle cx="658.97" cy="140.70" r="1.3"/><circle cx="667.13" cy="175.90" r="1.3"/><circle cx="675.30" cy="233.00" r="1.3"/><circle cx="683.47" cy="263.10" r="1.3"/><circle cx="691.63" cy="274.90" r="1.3"/><circle cx="699.80" cy="298.30" r="1.3"/><circle cx="707.97" cy="311.40" r="1.3"/><circle cx="716.14" cy="322.30" r="1.3"/><circle cx="724.30" cy="332.80" r="1.3"/><circle cx="732.47" cy="340.00" r="1.3"/><circle cx="740.64" cy="348.40" r="1.3"/><circle cx="748.80" cy="353.20" r="1.3"/><circle cx="756.97" cy="357.10" r="1.3"/><circle cx="765.14" cy="364.30" r="1.3"/><circle cx="773.30" cy="367.80" r="1.3"/><circle cx="781.47" cy="370.20" r="1.3"/><circle cx="789.64" cy="371.30" r="1.3"/><circle cx="797.81" cy="373.20" r="1.3"/><circle cx="805.97" cy="373.20" r="1.3"/><circle cx="814.14" cy="374.40" r="1.3"/><circle cx="822.31" cy="374.40" r="1.3"/><circle cx="830.47" cy="373.20" r="1.3"/><circle cx="838.64" cy="372.00" r="1.3"/><circle cx="846.81" cy="366.40" r="1.3"/><circle cx="854.97" cy="361.00" r="1.3"/><circle cx="863.14" cy="353.00" r="1.3"/><circle cx="871.31" cy="342.20" r="1.3"/><circle cx="879.48" cy="326.30" r="1.3"/><circle cx="887.64" cy="305.40" r="1.3"/><circle cx="895.81" cy="284.40" r="1.3"/><circle cx="903.98" cy="265.50" r="1.3"/><circle cx="912.14" cy="259.20" r="1.3"/><circle cx="920.31" cy="243.40" r="1.3"/><circle cx="928.48" cy="254.30" r="1.3"/><circle cx="936.64" cy="270.50" r="1.3"/><circle cx="944.81" cy="268.90" r="1.3"/><circle cx="952.98" cy="245.90" r="1.3"/><circle cx="961.15" cy="222.60" r="1.3"/><circle cx="969.31" cy="194.40" r="1.3"/><circle cx="977.48" cy="124.40" r="1.3"/><circle cx="985.65" cy="60.00" r="1.3"/><circle cx="993.81" cy="62.40" r="1.3"/><circle cx="1001.98" cy="96.70" r="1.3"/><circle cx="1010.15" cy="161.20" r="1.3"/><circle cx="1018.31" cy="210.50" r="1.3"/><circle cx="1026.48" cy="253.30" r="1.3"/><circle cx="1034.65" cy="278.90" r="1.3"/><circle cx="1042.82" cy="308.40" r="1.3"/><circle cx="1050.98" cy="328.40" r="1.3"/><circle cx="1059.15" cy="342.10" r="1.3"/><circle cx="1067.32" cy="349.70" r="1.3"/><circle cx="1075.48" cy="357.10" r="1.3"/><circle cx="1083.65" cy="363.50" r="1.3"/><circle cx="1091.82" cy="366.00" r="1.3"/><circle cx="1099.98" cy="369.20" r="1.3"/><circle cx="1108.15" cy="370.80" r="1.3"/><circle cx="1116.32" cy="373.30" r="1.3"/><circle cx="1124.49" cy="374.00" r="1.3"/><circle cx="1132.65" cy="375.20" r="1.3"/><circle cx="1140.82" cy="373.30" r="1.3"/><circle cx="1148.99" cy="372.70" r="1.3"/><circle cx="1157.15" cy="372.20" r="1.3"/><circle cx="1165.32" cy="367.60" r="1.3"/><circle cx="1173.49" cy="364.80" r="1.3"/></g>
<text x="1177" y="366.8" font-family="Liberation Sans, sans-serif" font-size="8.3" fill="#cf0a66" textLength="50.1" lengthAdjust="spacingAndGlyphs" stroke="#cf0a66" stroke-width="0.12">United Kingdom</text>
<text x="633" y="411" font-family="Liberation Sans, sans-serif" font-size="7.6" fill="#525252" textLength="148" lengthAdjust="spacingAndGlyphs">Source: Official data collated by Our World in Data</text>
<text x="1228" y="411" font-family="Liberation Sans, sans-serif" font-size="7.6" fill="#666" textLength="19.2" lengthAdjust="spacingAndGlyphs">CC BY</text>
</g>
</svg></body></html>
